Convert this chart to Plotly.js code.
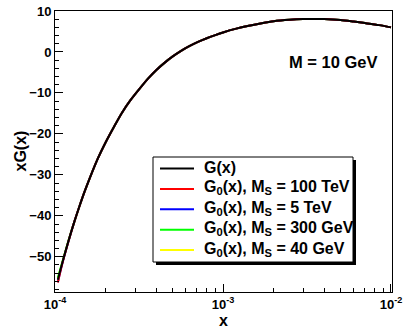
<!DOCTYPE html>
<html>
<head>
<meta charset="utf-8">
<script src="https://cdn.plot.ly/plotly-3.0.1.min.js"></script>
<style>
  html, body { margin: 0; padding: 0; background: #fff; }
  #plot { width: 403px; height: 332px; }
</style>
</head>
<body>
<div id="plot"></div>
<script>
// x values (log axis) and xG(x)
var xs = [1.04e-4, 1.1e-4, 1.2e-4, 1.3e-4, 1.4e-4, 1.5e-4, 1.6e-4, 1.8e-4, 2.0e-4, 2.25e-4,
          2.5e-4, 2.8e-4, 3.2e-4, 3.6e-4, 4.0e-4, 4.5e-4, 5.0e-4, 5.6e-4, 6.3e-4, 7.1e-4,
          8e-4, 9e-4, 1e-3, 1.2e-3, 1.4e-3, 1.7e-3, 2e-3, 2.5e-3, 3e-3, 3.5e-3,
          4e-3, 5e-3, 6e-3, 7e-3, 8.5e-3, 1e-2];
var gFull = [-55.6, -51.8, -46.3, -41.6, -37.6, -34.1, -31.1, -26.0, -22.1, -18.2,
             -14.9, -11.9, -8.9, -6.4, -4.45, -2.6, -1.15, 0.2, 1.4, 2.45,
             3.35, 4.12, 4.76, 5.69, 6.34, 7.02, 7.5, 7.86, 8.02, 8.07,
             8.05, 7.82, 7.42, 7.05, 6.55, 6.0];
var g0_100TeV = [-56.3, -52.0, -46.4, -41.6, -37.6, -34.1, -31.1, -26.0, -22.1, -18.2,
                 -14.9, -11.9, -8.9, -6.4, -4.45, -2.6, -1.15, 0.2, 1.4, 2.45,
                 3.35, 4.12, 4.76, 5.69, 6.34, 7.02, 7.5, 7.86, 8.02, 8.07,
                 8.05, 7.82, 7.42, 7.05, 6.55, 6.0];
var g0_5TeV = [-56.2, -52.0, -46.4, -41.6, -37.6, -34.1, -31.1, -26.0, -22.1, -18.2,
               -14.9, -11.9, -8.9, -6.4, -4.45, -2.6, -1.15, 0.2, 1.4, 2.45,
               3.35, 4.12, 4.76, 5.69, 6.34, 7.02, 7.5, 7.86, 8.02, 8.07,
               8.05, 7.82, 7.42, 7.05, 6.55, 6.0];
var g0_300GeV = [-55.1, -51.6, -46.2, -41.6, -37.6, -34.1, -31.1, -26.0, -22.1, -18.2,
                 -14.9, -11.9, -8.9, -6.4, -4.45, -2.6, -1.15, 0.2, 1.4, 2.45,
                 3.35, 4.12, 4.76, 5.69, 6.34, 7.02, 7.5, 7.86, 8.02, 8.07,
                 8.05, 7.82, 7.42, 7.05, 6.55, 6.0];
var g0_40GeV = [-55.3, -51.7, -46.2, -41.6, -37.6, -34.1, -31.1, -26.0, -22.1, -18.2,
                -14.9, -11.9, -8.9, -6.4, -4.45, -2.6, -1.15, 0.2, 1.4, 2.45,
                3.35, 4.12, 4.76, 5.69, 6.34, 7.02, 7.5, 7.86, 8.02, 8.07,
                8.05, 7.82, 7.42, 7.05, 6.55, 6.0];

var names = ['G(x)',
             'G<sub>0</sub>(x), M<sub>S</sub> = 100 TeV',
             'G<sub>0</sub>(x), M<sub>S</sub> = 5 TeV',
             'G<sub>0</sub>(x), M<sub>S</sub> = 300 GeV',
             'G<sub>0</sub>(x), M<sub>S</sub> = 40 GeV'];
var colors = ['#000000', '#ff0000', '#0000ff', '#00ff00', '#ffff00'];
var series = [gFull, g0_100TeV, g0_5TeV, g0_300GeV, g0_40GeV];

var xTicks = [1e-4, 1e-3, 1e-2];
var xTickText = ['10<sup>-4</sup>', '10<sup>-3</sup>', '10<sup>-2</sup>'];
var xMinor = [2e-4, 3e-4, 4e-4, 5e-4, 6e-4, 7e-4, 8e-4, 9e-4,
              2e-3, 3e-3, 4e-3, 5e-3, 6e-3, 7e-3, 8e-3, 9e-3];

var FONT = 'Liberation Sans, Arial, Helvetica, sans-serif';

// coloured curves first, black one drawn last so it sits on top
var data = [];
for (var i = series.length - 1; i >= 0; i--) {
  data.push({
    x: xs, y: series[i], name: names[i],
    type: 'scatter', mode: 'lines',
    line: {color: colors[i], width: 2, shape: 'spline', smoothing: 0.8},
    showlegend: false
  });
}

// plot frame in pixels: x 55..392, y 11..292
function px(v) { return (v - 55) / 337; }
function py(v) { return (292 - v) / 281; }

// ROOT style legend box with drop shadow
var shapes = [
  {type: 'rect', xref: 'paper', yref: 'paper', x0: px(156), x1: px(356), y0: py(265), y1: py(160),
   fillcolor: '#000', line: {width: 0}},
  {type: 'rect', xref: 'paper', yref: 'paper', x0: px(153), x1: px(353), y0: py(262), y1: py(157),
   fillcolor: '#fff', line: {color: '#000', width: 1}}
];
var annotations = [];
for (var k = 0; k < names.length; k++) {
  var yy = 168.5 + k * 20.4;
  shapes.push({type: 'line', xref: 'paper', yref: 'paper', x0: px(160), x1: px(194), y0: py(yy), y1: py(yy),
               line: {color: colors[k], width: 2}});
  annotations.push({xref: 'paper', yref: 'paper', x: px(202), y: py(yy - 1), xanchor: 'left', yanchor: 'middle',
                    text: names[k], showarrow: false,
                    font: {family: FONT, size: 16, color: '#000', weight: 'bold'}});
}
annotations.push({
  xref: 'paper', yref: 'paper', x: px(380), y: py(62), xanchor: 'right', yanchor: 'middle',
  text: 'M = 10 GeV', showarrow: false,
  font: {family: FONT, size: 16.5, color: '#000', weight: 'bold'}
});
// y axis title, placed by hand like ROOT does
annotations.push({
  xref: 'paper', yref: 'paper', x: px(20), y: 0.5, xanchor: 'center', yanchor: 'middle',
  text: 'xG(x)', textangle: -90, showarrow: false,
  font: {family: FONT, size: 16, color: '#000', weight: 'bold'}
});

var layout = {
  width: 403, height: 332,
  margin: {l: 55, r: 11, t: 11, b: 40},
  paper_bgcolor: '#fff', plot_bgcolor: '#fff',
  font: {family: FONT, size: 13, color: '#000', weight: 'bold'},
  showlegend: false,
  xaxis: {
    type: 'log', range: [-4, -1.994],
    tickmode: 'array', tickvals: xTicks, ticktext: xTickText,
    ticks: 'inside', ticklen: 8, tickcolor: '#000',
    minor: {tickmode: 'array', tickvals: xMinor, ticks: 'inside', ticklen: 4, tickcolor: '#000'},
    showgrid: false, zeroline: false,
    showline: true, linecolor: '#000', linewidth: 1, mirror: true,
    title: {text: 'x', font: {size: 16, weight: 'bold'}, standoff: 4}
  },
  yaxis: {
    range: [-58.6, 10], dtick: 10, tick0: 0,
    ticks: 'inside', ticklen: 8, tickcolor: '#000',
    minor: {dtick: 2, ticks: 'inside', ticklen: 4, tickcolor: '#000'},
    showgrid: false, zeroline: false,
    showline: true, linecolor: '#000', linewidth: 1, mirror: true
  },
  shapes: shapes,
  annotations: annotations
};

Plotly.newPlot('plot', data, layout, {staticPlot: true});
</script>
</body>
</html>
